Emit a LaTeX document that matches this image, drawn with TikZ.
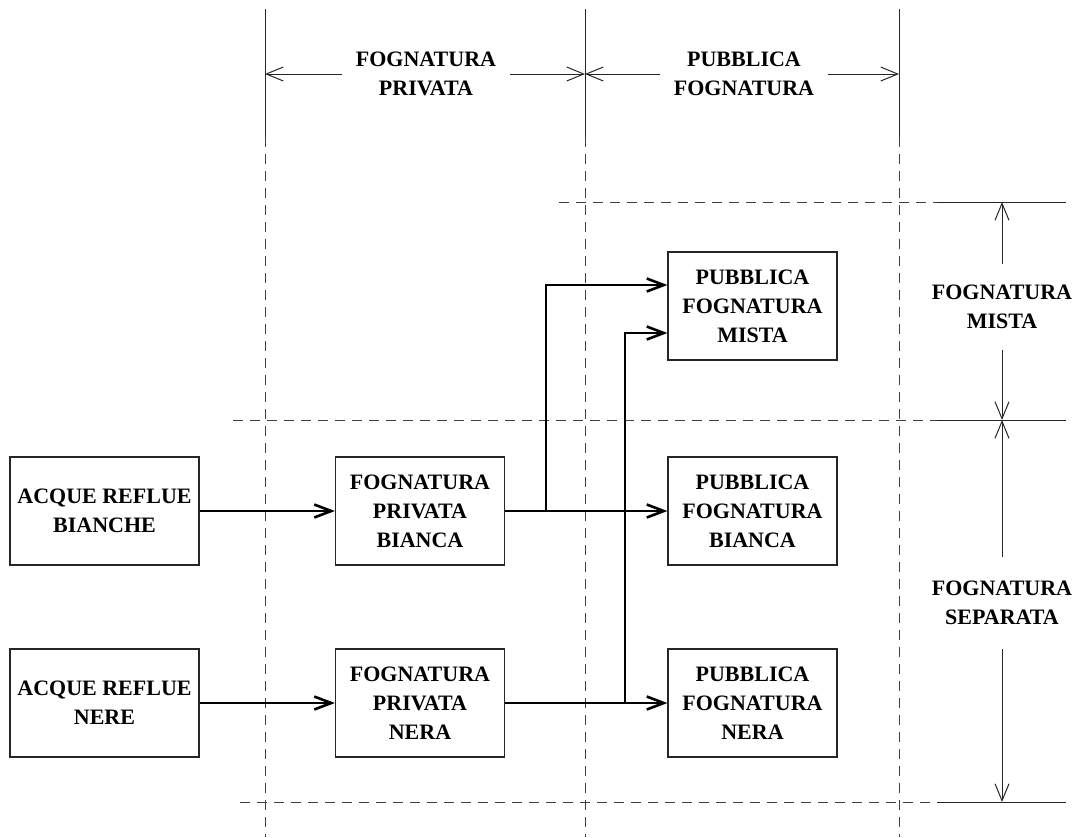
\documentclass[tikz,border=0pt]{standalone}
\usepackage{fontspec}
\setmainfont{Liberation Serif}
\usetikzlibrary{arrows.meta}

\tikzset{
  box/.style={draw=black!85, line width=0.6pt, minimum width=84.5pt, minimum height=54pt,
    inner sep=2pt, align=center, font=\fontsize{11}{14.5}\selectfont\bfseries},
  tag/.style={inner xsep=7pt, inner ysep=0pt, align=center, font=\fontsize{11}{14.5}\selectfont\bfseries},
  flow/.style={line width=1.3pt, -{Straight Barb[length=8.5pt,width=6.5pt]}},
  quota/.style={line width=0.5pt, black!85, -{Straight Barb[length=8.5pt,width=7pt]}},
  rule/.style={line width=0.5pt, black!85},
  guide/.style={line width=0.5pt, black!75, dash pattern=on 5pt off 3.5pt}
}

\begin{document}
\begin{tikzpicture}[x=0.5pt,y=-0.5pt]
		\useasboundingbox (0,0) rectangle (1082,837);
		% guide lines
		\draw[rule] (265,9) -- (265,137);
		\draw[guide] (265,137) -- (265,837);
		\draw[rule] (585,9) -- (585,137);
		\draw[guide] (585,137) -- (585,837);
		\draw[rule] (899,9) -- (899,137);
		\draw[guide] (899,137) -- (899,837);
		\draw[guide] (559,202) -- (937,202);
		\draw[rule] (937,202) -- (1066,202);
		\draw[guide] (233,420) -- (937,420);
		\draw[rule] (937,420) -- (1066,420);
		\draw[guide] (240,802) -- (937,802);
		\draw[rule] (937,802) -- (1066,802);
		% quote
		\coordinate (cPriv) at (265,74);
		\coordinate (cMid) at (585,74);
		\coordinate (cPub) at (899,74);
		\coordinate (cMista) at (1002,202);
		\coordinate (cSep) at (1002,420);
		\coordinate (cFondo) at (1002,802);
		\node[tag] (tPriv) at (426,74) {FOGNATURA\\PRIVATA};
		\node[tag] (tPub) at (744,74) {PUBBLICA\\FOGNATURA};
		\node[tag,inner ysep=10.5pt] (tMista) at (1002,307) {FOGNATURA\\MISTA};
		\node[tag,inner ysep=12pt] (tSep) at (1002,603) {FOGNATURA\\SEPARATA};
		\draw[quota] (tPriv.west) -- (cPriv);
		\draw[quota] (tPriv.east) -- (cMid);
		\draw[quota] (tPub.west) -- (cMid);
		\draw[quota] (tPub.east) -- (cPub);
		\draw[quota] (tMista.north) -- (cMista);
		\draw[quota] (tMista.south) -- (cSep);
		\draw[quota] (tSep.north) -- (cSep);
		\draw[quota] (tSep.south) -- (cFondo);
		% blocchi
		\node[box,minimum width=94.5pt] (acqB) at (104.5,511) {ACQUE REFLUE\\BIANCHE};
		\node[box,minimum width=94.5pt] (acqN) at (104.5,703) {ACQUE REFLUE\\NERE};
		\node[box] (privB) at (420,511) {FOGNATURA\\PRIVATA\\BIANCA};
		\node[box] (privN) at (420,703) {FOGNATURA\\PRIVATA\\NERA};
		\node[box] (pubM) at (752.5,306) {PUBBLICA\\FOGNATURA\\MISTA};
		\node[box] (pubB) at (752.5,511) {PUBBLICA\\FOGNATURA\\BIANCA};
		\node[box] (pubN) at (752.5,703) {PUBBLICA\\FOGNATURA\\NERA};
		% collegamenti
		\draw[flow] (acqB) -- (privB);
		\draw[flow] (acqN) -- (privN);
		\draw[flow] (privB) -- (pubB);
		\draw[flow] (privN) -- (pubN);
		\draw[flow] (privB.east) -- ++(41,0) |- ([yshift=10.5pt]pubM.west);
		\draw[flow] (privN.east) -- ++(120,0) |- ([yshift=-13.5pt]pubM.west);
	\end{tikzpicture}
\end{document}
